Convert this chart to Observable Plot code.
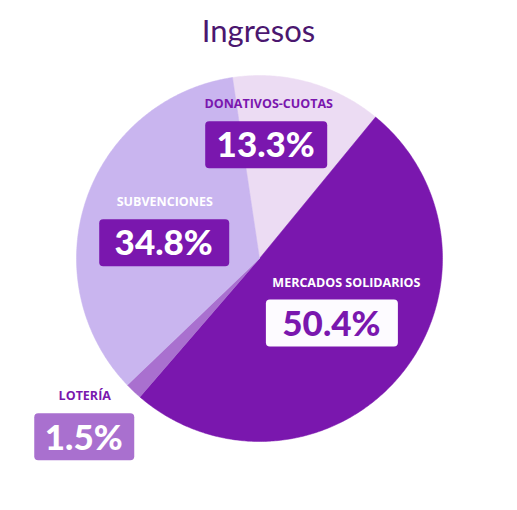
<!DOCTYPE html>
<html><head><meta charset="utf-8">
<script src="https://cdn.jsdelivr.net/npm/d3@7"></script>
<script src="https://cdn.jsdelivr.net/npm/@observablehq/plot@0.6"></script>
<style>
body{margin:0;background:#fff;}
#title{height:60px;line-height:60px;text-align:center;font-family:Lato, sans-serif;font-size:31px;color:#4b176f;}
g[aria-label="pct"] text{letter-spacing:-3px;}
g[aria-label="name"] text{letter-spacing:-0.3px;}
</style></head><body>
<div id="title">Ingresos</div>
<div id="chart"></div>
<script>
const categories = ["DONATIVOS-CUOTAS", "MERCADOS SOLIDARIOS", "LOTERÍA", "SUBVENCIONES"];
const values = [13.3, 50.4, 1.5, 34.8];
const valueLabels = ["13.3%", "50.4%", "1.5%", "34.8%"];
const sliceColors = ["#ecdcf3", "#7a17ae", "#a970cf", "#c9b5ef"];

// label styling / placement (relative to slice mid-angle)
const labelStyle = {
  "DONATIVOS-CUOTAS":   {f: 0.62,  dx: -23, dy: -4, nameDx: 2,  w: 122, box: "#7a17ae", num: "#ffffff", name: "#7a17ae"},
  "MERCADOS SOLIDARIOS":{f: 0.535, dx: -2,  dy: 2,  nameDx: 14, w: 132, box: "#fdfbff", num: "#7a17ae", name: "#ffffff"},
  "LOTERÍA":            {f: 1.355, dx: -4,  dy: -1, nameDx: 0,  w: 100, box: "#a970cf", num: "#ffffff", name: "#7a17ae"},
  "SUBVENCIONES":       {f: 0.53,  dx: -3,  dy: 16, nameDx: 0,  w: 130, box: "#7a17ae", num: "#ffffff", name: "#ffffff"}
};

const R = 183; // pixel radius
const s = 1 / R; // pixel -> data units
const data = categories.map((name, i) => ({name, value: values[i], label: valueLabels[i]}));
const arcs = d3.pie().sort(null).value(d => d.value).startAngle(-8.5 * Math.PI / 180).endAngle(2 * Math.PI - 8.5 * Math.PI / 180)(data);

// outline of each slice in unit-circle coordinates
const slicePts = arcs.flatMap(a => {
  const pts = [{name: a.data.name, x: 0, y: 0}];
  const n = Math.max(2, Math.ceil((a.endAngle - a.startAngle) / 0.01));
  for (let k = 0; k <= n; k++) {
    const t = a.startAngle + (a.endAngle - a.startAngle) * k / n;
    pts.push({name: a.data.name, x: Math.sin(t), y: Math.cos(t)});
  }
  pts.push({name: a.data.name, x: 0, y: 0});
  return pts;
});

const labelMarks = arcs.flatMap(a => {
  const st = labelStyle[a.data.name];
  const m = (a.startAngle + a.endAngle) / 2;
  const ax = st.f * Math.sin(m), ay = st.f * Math.cos(m);
  const d = [{...a.data, ax, ay}];
  return [
    Plot.rect(d, {x1: v => v.ax - st.w / 2 * s, x2: v => v.ax + st.w / 2 * s,
                  y1: v => v.ay - 23.5 * s, y2: v => v.ay + 23.5 * s,
                  dx: st.dx, dy: st.dy, fill: st.box, rx: 4}),
    Plot.text(d, {x: "ax", y: "ay", text: "label", dx: st.dx - 1, dy: st.dy + 1,
                  fill: st.num, fontSize: 35, fontWeight: 900, fontFamily: "Lato, sans-serif", ariaLabel: "pct"}),
    Plot.text(d, {x: "ax", y: "ay", text: "name", dx: st.dx + st.nameDx, dy: st.dy - 41,
                  fill: st.name, fontSize: 12.5, fontWeight: 700, fontFamily: "'Open Sans', sans-serif", ariaLabel: "name"})
  ];
});

const chart = Plot.plot({
  width: 517,
  height: 450,
  margin: 0,
  x: {domain: [-1, 1], range: [259 - R, 259 + R], axis: null},
  y: {domain: [-1, 1], range: [198 + R, 198 - R], axis: null},
  color: {domain: categories, range: sliceColors},
  style: {background: "#fff", overflow: "visible"},
  marks: [
    Plot.line(slicePts, {x: "x", y: "y", z: "name", fill: "name", stroke: "name", strokeWidth: 0.5, curve: "linear"}),
    ...labelMarks
  ]
});
document.getElementById("chart").appendChild(chart);
</script>
</body></html>
